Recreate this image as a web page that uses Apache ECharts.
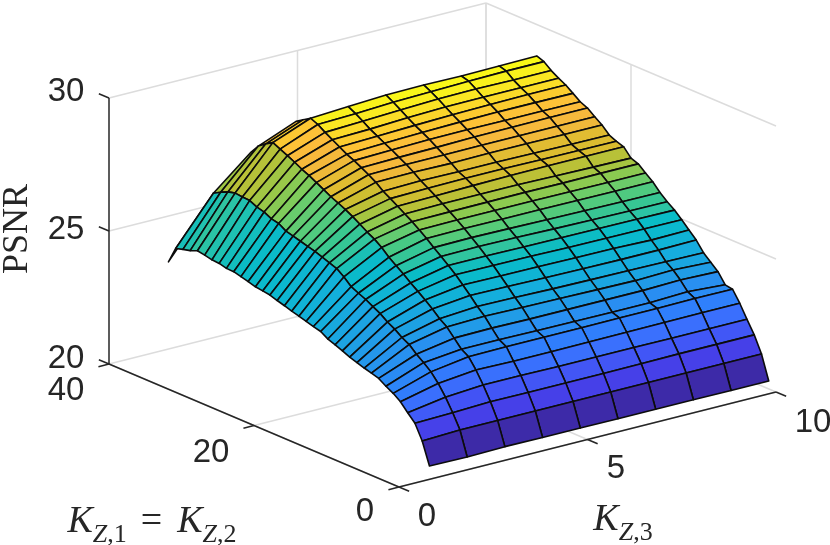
<!DOCTYPE html>
<html>
<head>
<meta charset="utf-8">
<script src="https://cdn.jsdelivr.net/npm/echarts@6/dist/echarts.min.js"></script>
<style>
html,body{margin:0;padding:0;background:#fff}
#main{width:830px;height:545px}
</style>
</head>
<body>
<div id="main"></div>
<script>
// tick labels
var k3Ticks = [0,5,10]
var k1Ticks = [0,20,40]
var psnrTicks = [20,25,30]

// PSNR, one list per K_Z,3 = 1..10, index is K_Z,1 - 1
var psnrK3_1 = [20.32,21.14,21.69,21.97,22.27,22.47,22.62,22.80,22.88,22.96,23.05,23.14,23.26,23.37,23.47,23.64,23.71,23.79,23.87,23.94,24.03,24.11,24.20,24.24,24.28,24.36,24.43,24.50,24.51,24.58,24.60,24.66,24.71,24.60,24.53,24.45,23.83]
var psnrK3_2 = [20.30,21.20,21.73,22.20,22.60,22.92,23.15,23.35,23.60,23.75,23.95,24.10,24.30,24.45,24.60,24.72,24.85,25.10,25.30,25.40,25.50,25.60,25.67,25.75,25.83,25.90,26.07,26.13,26.27,26.34,26.47,26.49,26.52,26.45,26.32,26.17,25.57]
var psnrK3_3 = [20.33,21.20,21.79,22.30,22.75,23.13,23.30,23.60,23.90,24.10,24.35,24.57,24.78,24.98,25.20,25.40,25.60,25.85,26.05,26.20,26.38,26.55,26.70,26.83,26.95,27.10,27.25,27.40,27.52,27.67,27.80,27.93,28.06,27.89,27.70,27.36]
var psnrK3_4 = [20.32,21.20,21.78,22.30,22.72,23.15,23.30,23.62,23.95,24.20,24.50,24.78,25.05,25.28,25.50,25.72,25.95,26.15,26.35,26.52,26.70,26.87,27.03,27.25,27.42,27.57,27.72,27.84,28.00,28.16,28.32,28.50,28.62,28.45,28.27]
var psnrK3_5 = [20.32,21.20,21.78,22.28,22.72,23.15,23.28,23.60,23.92,24.18,24.48,24.76,25.04,25.28,25.52,25.74,25.97,26.17,26.36,26.55,26.73,26.90,27.07,27.27,27.45,27.60,27.76,27.90,28.05,28.20,28.38,28.55,28.70]
var psnrK3_6 = [20.31,21.20,21.78,22.28,22.73,23.15,23.27,23.60,23.90,24.15,24.45,24.75,25.03,25.26,25.50,25.72,25.96,26.17,26.37,26.55,26.76,26.92,27.05,27.25,27.45,27.62,27.80,27.95,28.10,28.27,28.45,28.62,28.78]
var psnrK3_7 = [20.31,21.20,21.79,22.28,22.74,23.16,23.26,23.60,23.88,24.13,24.43,24.73,25.00,25.25,25.47,25.70,25.96,26.17,26.38,26.55,26.78,26.92,27.05,27.27,27.46,27.65,27.81,27.98,28.14,28.32,28.50,28.66,28.80]
var psnrK3_8 = [20.31,21.20,21.80,22.27,22.75,23.16,23.26,23.60,23.86,24.12,24.42,24.72,24.99,25.24,25.45,25.68,25.95,26.16,26.37,26.52,26.79,26.90,27.03,27.27,27.46,27.66,27.80,28.00,28.17,28.33,28.52,28.70,28.78]
var psnrK3_9 = [20.30,21.20,21.80,22.27,22.76,23.18,23.32,23.64,23.90,24.10,24.42,24.68,24.98,25.23,25.43,25.66,25.94,26.15,26.38,26.50,26.79,26.89,27.01,27.26,27.46,27.67,27.80,28.00,28.19,28.33,28.50,28.72,28.80]
var psnrK3_10 = [20.30,21.20,21.80,22.27,22.76,23.17,23.22,23.60,23.84,24.08,24.44,24.70,24.97,25.22,25.42,25.65,25.94,26.15,26.38,26.48,26.79,26.88,27.00,27.26,27.46,27.67,27.79,27.99,28.19,28.33,28.50,28.72,28.82]
var psnrColumns = [psnrK3_1,psnrK3_2,psnrK3_3,psnrK3_4,psnrK3_5,psnrK3_6,psnrK3_7,psnrK3_8,psnrK3_9,psnrK3_10]

var colorMin = 20.3, colorMax = 28.82
// colormap stops, matched against the faces of the picture
var parula = [[0,61,42,167],[0.106,70,64,232],[0.17,66,84,245],[0.23,58,111,253],[0.29,47,128,252],[0.36,40,145,240],[0.4,30,160,228],[0.46,20,175,220],[0.52,10,185,205],[0.55,10,188,198],[0.58,46,196,162],[0.61,58,199,143],[0.63,80,202,127],[0.663,109,204,105],[0.687,139,202,81],[0.71,162,198,67],[0.728,184,193,56],[0.762,217,188,46],[0.795,227,188,51],[0.818,240,185,58],[0.857,251,185,61],[0.887,253,196,54],[0.907,251,206,46],[0.927,251,222,40],[0.95,250,236,32],[0.974,249,245,26],[1,249,251,21]]

function faceColor(v){
	var t = (v-colorMin)/(colorMax-colorMin)
	t = Math.max(0,Math.min(1,t))
	for(var i = 1; i < parula.length; i++){
		if(t <= parula[i][0]){
			var a = parula[i-1], b = parula[i], f = (t-a[0])/(b[0]-a[0])
			return 'rgb('+Math.round(a[1]+(b[1]-a[1])*f)+','+Math.round(a[2]+(b[2]-a[2])*f)+','+Math.round(a[3]+(b[3]-a[3])*f)+')'
		}
	}
	return 'rgb(249,251,21)'
}

// orthographic view of the 3d box onto the flat hidden axes
function project(k3,k1,z){
	return [399+37.7*k3-7.25*k1, 487-9.5*k3-3.075*k1-26.6*(z-20)]
}

// cells, far ones first
var cells = []
for(var i = 37; i >= 1; i--){
	for(var j = 9; j >= 1; j--){
		var col = psnrColumns[j-1], next = psnrColumns[j]
		if(i < col.length && i < next.length){
			cells.push([j,i])
		}
	}
}

// gray lines on the back walls and floor, then the dark axes
var gridLines = []
k3Ticks.forEach(function(t){
	gridLines.push([[t,0,20],[t,40,20]])
	if(t > 0) gridLines.push([[t,40,20],[t,40,30]])
})
k1Ticks.forEach(function(t){
	gridLines.push([[0,t,20],[10,t,20]])
	if(t > 0) gridLines.push([[10,t,20],[10,t,30]])
})
psnrTicks.forEach(function(t){
	if(t > 20){
		gridLines.push([[0,40,t],[10,40,t]])
		gridLines.push([[10,40,t],[10,0,t]])
	}
})
var axisLines = [[[0,0,20],[10,0,20]],[[0,0,20],[0,40,20]],[[0,40,20],[0,40,30]]]
k3Ticks.forEach(function(t){ axisLines.push([[t,0,20],[t,-1.4,20]]) })
k1Ticks.forEach(function(t){ axisLines.push([[0,t,20],[-0.28,t,20]]) })
psnrTicks.forEach(function(t){ axisLines.push([[0,40,t],[0,41.4,t]]) })

function lineSeries(list,color,width,z){
	return {
		type:'custom',
		coordinateSystem:'cartesian2d',
		silent:true,
		clip:false,
		z:z,
		data:list.map(function(l,i){ return [i] }),
		renderItem:function(params,api){
			var l = list[api.value(0)]
			var a = api.coord(project(l[0][0],l[0][1],l[0][2]))
			var b = api.coord(project(l[1][0],l[1][1],l[1][2]))
			return {type:'line',shape:{x1:a[0],y1:a[1],x2:b[0],y2:b[1]},style:{stroke:color,lineWidth:width}}
		}
	}
}

var surface = {
	type:'custom',
	coordinateSystem:'cartesian2d',
	silent:true,
	clip:false,
	z:3,
	data:cells,
	renderItem:function(params,api){
		var j = api.value(0), i = api.value(1)
		var corners = [[j,i],[j+1,i],[j+1,i+1],[j,i+1]]
		var pts = corners.map(function(c){
			return api.coord(project(c[0],c[1],psnrColumns[c[0]-1][c[1]-1]))
		})
		// first panel reads a little lighter than its own height in the picture
		var shift = j == 1 ? Math.min(0.55,(i-1)*0.1) : 0
		return {type:'polygon',shape:{points:pts},style:{fill:faceColor(psnrColumns[j-1][i-1]+shift),stroke:'#0c0c0c',lineWidth:1.6,lineJoin:'round'}}
	}
}

var tickFont = '33px "Liberation Sans"'
var labels = [
	{text:'30',at:[66,92]},
	{text:'25',at:[66,230]},
	{text:'20',at:[66,359]},
	{text:'40',at:[66,391]},
	{text:'20',at:[211,453]},
	{text:'0',at:[365,512]},
	{text:'0',at:[427,517]},
	{text:'5',at:[616,469]},
	{text:'10',at:[813,423]}
]
var rich = {
	k:{fontFamily:'Liberation Serif',fontStyle:'italic',fontSize:38,fill:'#262626',verticalAlign:'bottom'},
	s:{fontFamily:'Liberation Serif',fontStyle:'italic',fontSize:26,fill:'#262626',verticalAlign:'bottom',padding:[0,0,-7,0]},
	n:{fontFamily:'Liberation Serif',fontSize:26,fill:'#262626',verticalAlign:'bottom',padding:[0,0,-7,0]},
	e:{fontFamily:'Liberation Serif',fontSize:38,fill:'#262626',padding:[0,15,0,14],verticalAlign:'bottom'}
}

var textSeries = {
	type:'custom',
	coordinateSystem:'cartesian2d',
	silent:true,
	clip:false,
	z:5,
	data:labels.map(function(l,i){ return [i] }).concat([[100],[101],[102]]),
	renderItem:function(params,api){
		var n = api.value(0)
		if(n < 100){
			var p = api.coord(labels[n].at)
			return {type:'text',style:{x:p[0],y:p[1],text:labels[n].text,font:tickFont,fill:'#262626',textAlign:'center',textVerticalAlign:'middle'}}
		}
		if(n == 100){
			var q = api.coord([18,229])
			return {type:'text',x:q[0],y:q[1],rotation:Math.PI/2,style:{x:0,y:0,text:'PSNR',font:'36px "Liberation Serif"',fill:'#262626',textAlign:'center',textVerticalAlign:'middle'}}
		}
		if(n == 101){
			var r = api.coord([152,522])
			return {type:'text',style:{x:r[0],y:r[1],text:'{k|K}{s|Z}{n|,1}{e|=}{k|K}{s|Z}{n|,2}',rich:rich,textAlign:'center',textVerticalAlign:'middle'}}
		}
		var u = api.coord([623,520])
		return {type:'text',style:{x:u[0],y:u[1],text:'{k|K}{s|Z}{n|,3}',rich:rich,textAlign:'center',textVerticalAlign:'middle'}}
	}
}

var chart = echarts.init(document.getElementById('main'),null,{renderer:'canvas'})
chart.setOption({
	animation:false,
	backgroundColor:'#fff',
	grid:{left:0,right:0,top:0,bottom:0},
	xAxis:{type:'value',min:0,max:830,show:false},
	yAxis:{type:'value',min:0,max:545,inverse:true,show:false},
	series:[
		lineSeries(gridLines,'#dcdcdc',1.5,1),
		lineSeries(axisLines,'#262626',1.5,2),
		surface,
		textSeries
	]
})
</script>
</body>
</html>
